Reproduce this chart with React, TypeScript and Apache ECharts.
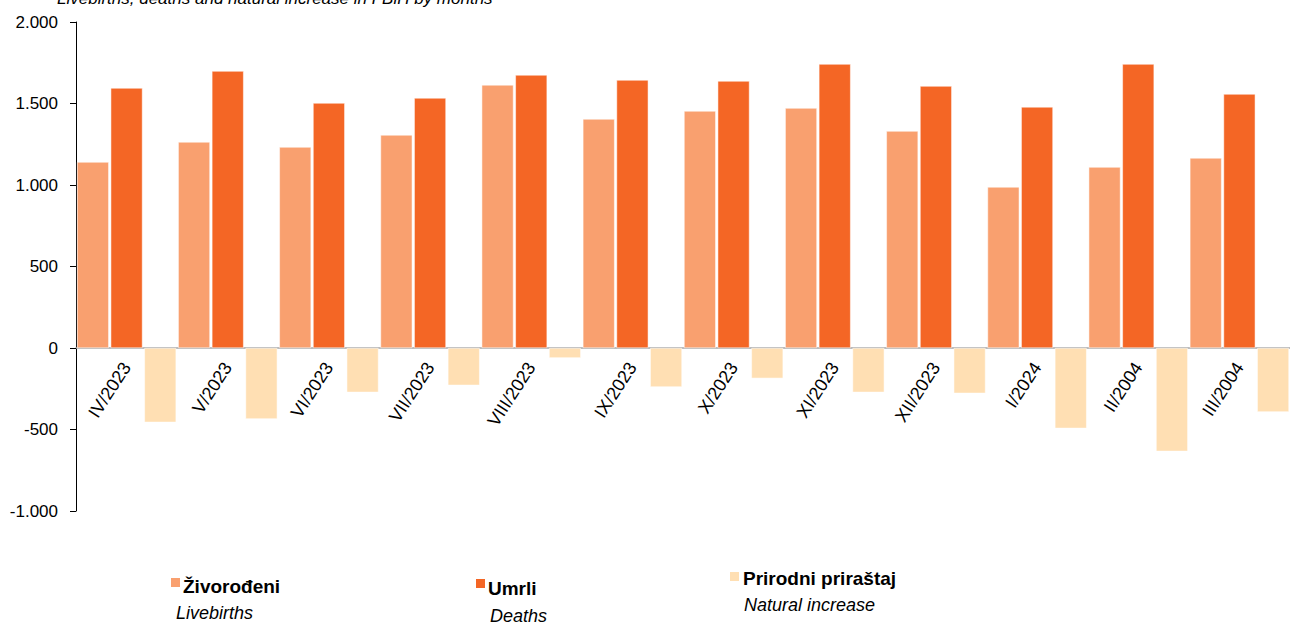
import React, { useEffect, useRef } from "react";
import * as echarts from "echarts";

const categories = ["IV/2023", "V/2023", "VI/2023", "VII/2023", "VIII/2023", "IX/2023", "X/2023", "XI/2023", "XII/2023", "I/2024", "II/2004", "III/2004"];
const livebirths = [1141, 1264, 1233, 1307, 1614, 1405, 1454, 1472, 1331, 988, 1110, 1166];
const deaths = [1595, 1699, 1503, 1534, 1675, 1644, 1638, 1742, 1607, 1479, 1742, 1558];
const naturalIncrease = [-456, -435, -272, -229, -61, -239, -186, -272, -278, -493, -634, -392];
const yTicks = [-1000, -500, 0, 500, 1000, 1500, 2000];

const FONT = "Liberation Sans, Arial, sans-serif";
const C_LIVE = "#F9A06F";
const C_DEATH = "#F46625";
const C_NAT = "#FFDFB3";

function fmt(v: number): string {
  const s = Math.abs(v).toString().replace(/\B(?=(\d{3})+(?!\d))/g, ".");
  return (v < 0 ? "-" : "") + s;
}

export default function App() {
  const ref = useRef<HTMLDivElement>(null);
  useEffect(() => {
    document.body.style.margin = "0";
    const chart = echarts.init(ref.current!, null, { renderer: "svg" });
    const barBase = { type: "bar" as const, barGap: "6%", barCategoryGap: "2%", itemStyle: { borderColor: "#fff", borderWidth: 0.5 } };
    chart.setOption({
      animation: false,
      textStyle: { fontFamily: FONT },
      grid: { left: 76, right: 0, top: 22, bottom: 115, containLabel: false },
      xAxis: {
        type: "category",
        data: categories,
        position: "bottom",
        offset: -163,
        axisLine: { onZero: false, lineStyle: { color: "#A6A6A6", width: 1.5 } },
        axisTick: { show: false },
        axisLabel: { interval: 0, rotate: 57, fontSize: 18, color: "#000", fontFamily: FONT, margin: 16, padding: 0 },
      },
      yAxis: {
        type: "value",
        min: yTicks[0],
        max: yTicks[yTicks.length - 1],
        interval: 500,
        splitLine: { show: false },
        axisLine: { show: true, lineStyle: { color: "#000", width: 1 } },
        axisTick: { show: true, length: 6, lineStyle: { color: "#000" } },
        axisLabel: { fontSize: 17, color: "#000", fontFamily: FONT, margin: 18, formatter: (v: number) => fmt(v) },
      },
      series: [
        { ...barBase, name: "Živorođeni", data: livebirths, itemStyle: { ...barBase.itemStyle, color: C_LIVE } },
        { ...barBase, name: "Umrli", data: deaths, itemStyle: { ...barBase.itemStyle, color: C_DEATH } },
        { ...barBase, name: "Prirodni priraštaj", data: naturalIncrease, itemStyle: { ...barBase.itemStyle, color: C_NAT } },
      ],
      graphic: [
        { type: "text", left: 57, top: -10, style: { text: "Livebirths, deaths and natural increase in FBiH by months", font: `italic 17px ${FONT}`, fill: "#000" } },
        { type: "rect", shape: { x: 171, y: 578, width: 9, height: 9 }, style: { fill: C_LIVE } },
        { type: "text", left: 183, top: 577, style: { text: "Živorođeni", font: `bold 19px ${FONT}`, fill: "#000" } },
        { type: "text", left: 176, top: 604, style: { text: "Livebirths", font: `italic 18px ${FONT}`, fill: "#000" } },
        { type: "rect", shape: { x: 476, y: 579, width: 9, height: 9 }, style: { fill: C_DEATH } },
        { type: "text", left: 488, top: 579, style: { text: "Umrli", font: `bold 19px ${FONT}`, fill: "#000" } },
        { type: "text", left: 490, top: 607, style: { text: "Deaths", font: `italic 18px ${FONT}`, fill: "#000" } },
        { type: "rect", shape: { x: 730, y: 572, width: 9, height: 9 }, style: { fill: C_NAT } },
        { type: "text", left: 743, top: 569, style: { text: "Prirodni priraštaj", font: `bold 19px ${FONT}`, fill: "#000" } },
        { type: "text", left: 744, top: 596, style: { text: "Natural increase", font: `italic 18px ${FONT}`, fill: "#000" } },
      ],
    });
    return () => chart.dispose();
  }, []);
  return <div ref={ref} style={{ width: 1290, height: 626 }} />;
}
